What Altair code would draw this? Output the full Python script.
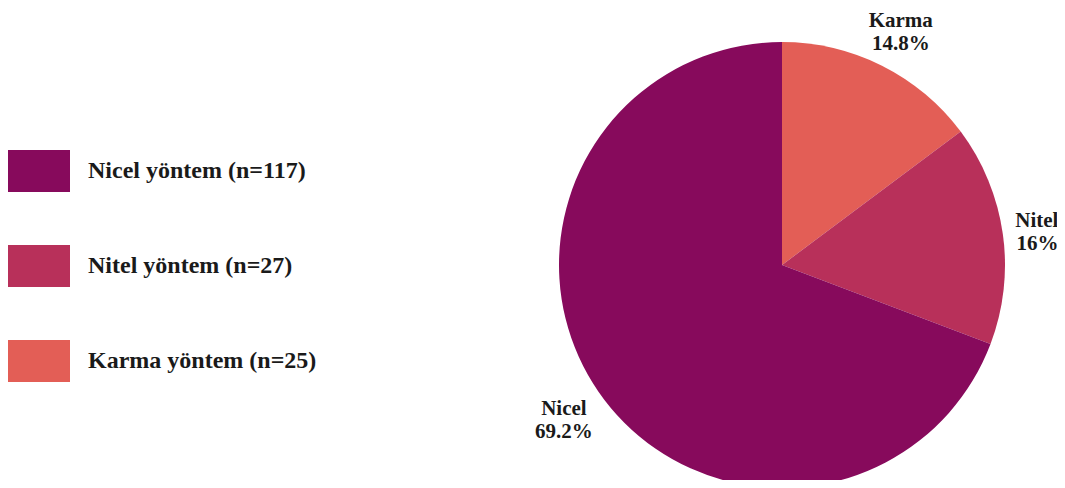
import altair as alt
import pandas as pd

short_names = ["Karma", "Nitel", "Nicel"]
legend_names = ["Karma yöntem (n=25)", "Nitel yöntem (n=27)", "Nicel yöntem (n=117)"]
counts = [25, 27, 117]
pct_labels = ["14.8%", "16%", "69.2%"]
order = [0, 1, 2]
colors = ["#E35E56", "#B8305A", "#870A5C"]

df = pd.DataFrame({
    "short": short_names,
    "legend": legend_names,
    "n": counts,
    "pct": pct_labels,
    "o": order,
})
df["label"] = df["short"] + "\n" + df["pct"]

legend_domain = ["Nicel yöntem (n=117)", "Nitel yöntem (n=27)", "Karma yöntem (n=25)"]
legend_range = ["#870A5C", "#B8305A", "#E35E56"]

FONT = "Liberation Serif"

base = alt.Chart(df).encode(
    theta=alt.Theta("n:Q", stack=True),
    order=alt.Order("o:Q"),
    x=alt.value(774),
    y=alt.value(257),
)

arc = base.mark_arc(outerRadius=223).encode(
    color=alt.Color(
        "legend:N",
        scale=alt.Scale(domain=legend_domain, range=legend_range),
        legend=alt.Legend(
            title=None,
            orient="none",
            legendX=0,
            legendY=132,
            symbolType="M-1,-0.68H1V0.68H-1Z",
            symbolSize=3844,
            symbolStrokeWidth=0,
            symbolOpacity=1,
            labelFont=FONT,
            labelFontSize=24,
            labelFontWeight="bold",
            labelColor="#1a1a1a",
            labelOffset=18,
            rowPadding=42,
            labelLimit=400,
        ),
    )
)

text = base.mark_text(
    radius=265,
    dy=-7,
    font=FONT,
    fontSize=21,
    fontWeight="bold",
    lineBreak="\n",
    lineHeight=23,
    color="#1a1a1a",
    align=alt.expr("datum.short === 'Nitel' ? 'right' : 'center'"),
    dx=alt.expr("datum.short === 'Nitel' ? 14 : 0"),
    baseline="middle",
).encode(text="label:N")

chart = (arc + text).properties(
    width=1049,
    height=472,
    autosize=alt.AutoSizeParams(type="none"),
    padding=0,
).configure_view(stroke=None)

chart.save("out.html", embed_options={"renderer": "svg", "actions": False})
